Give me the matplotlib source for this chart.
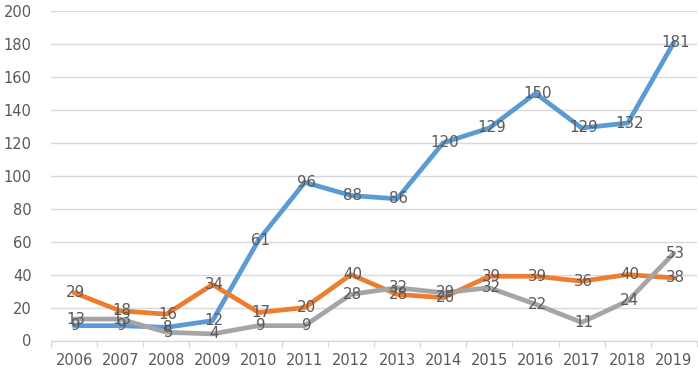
import matplotlib
matplotlib.use("Agg")
import matplotlib.pyplot as plt
import numpy as np

years = ["2006", "2007", "2008", "2009", "2010", "2011", "2012",
         "2013", "2014", "2015", "2016", "2017", "2018", "2019"]
series_blue = [9, 9, 8, 12, 61, 96, 88, 86, 120, 129, 150, 129, 132, 181]
series_orange = [29, 18, 16, 34, 17, 20, 40, 28, 26, 39, 39, 36, 40, 38]
series_gray = [13, 13, 5, 4, 9, 9, 28, 32, 29, 32, 22, 11, 24, 53]

colors = ["#5B9BD5", "#ED7D31", "#A5A5A5"]
text_color = "#595959"
grid_color = "#D9D9D9"

fig = plt.figure(figsize=(6.98, 3.73), dpi=100)
ax = fig.add_axes([51 / 698, 1 - 340.5 / 373, 646 / 698, 329.5 / 373])

xs = np.arange(len(years))
for ys, c in zip([series_blue, series_orange, series_gray], colors):
    ax.plot(xs, ys, color=c, lw=3.4, solid_capstyle="round", solid_joinstyle="round", zorder=3)

# labels drawn after all lines so they sit on top
for ys in [series_blue, series_orange, series_gray]:
    for x, y in zip(xs, ys):
        ax.text(x + 0.04, y, str(y), ha="center", va="center", fontsize=10.8,
                color=text_color, zorder=5, family="DejaVu Sans")

ax.set_xlim(-0.5, len(years) - 0.5)
ax.set_ylim(0, 200)
ax.set_yticks(np.arange(0, 201, 20))
ax.set_xticks(xs)
ax.set_xticklabels(years)
ax.set_xticks(np.arange(-0.5, len(years), 1), minor=True)

ax.grid(axis="y", color=grid_color, lw=1.0, zorder=0)
ax.set_axisbelow(True)
for s in ["top", "right", "left"]:
    ax.spines[s].set_visible(False)
ax.spines["bottom"].set_color(grid_color)
ax.spines["bottom"].set_linewidth(1.0)

ax.tick_params(axis="y", length=0, pad=14, labelsize=10.5, labelcolor=text_color)
ax.tick_params(axis="x", which="major", length=0, pad=9, labelsize=10.5, labelcolor=text_color)
ax.tick_params(axis="x", which="minor", length=4, width=1, color=grid_color)

fig.savefig("out.png", dpi=100)
